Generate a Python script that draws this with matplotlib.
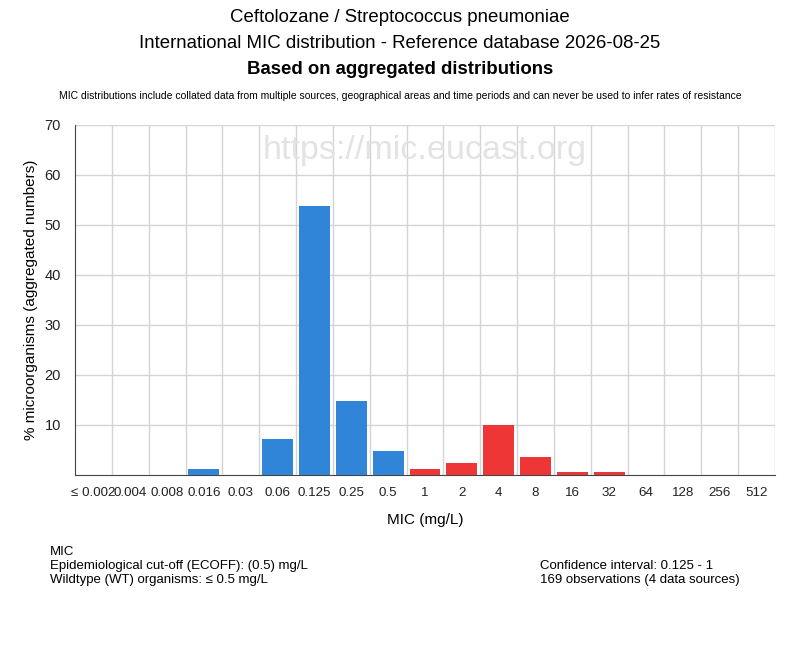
import matplotlib
matplotlib.use("Agg")
import matplotlib.pyplot as plt
import numpy as np

plt.rcParams['font.family'] = ['Liberation Sans', 'DejaVu Sans']

categories = ["≤ 0.002", "0.004", "0.008", "0.016", "0.03", "0.06", "0.125", "0.25", "0.5",
              "1", "2", "4", "8", "16", "32", "64", "128", "256", "512"]
counts = [0, 0, 0, 2, 0, 12, 91, 25, 8, 2, 4, 17, 6, 1, 1, 0, 0, 0, 0]
total_obs = 169
wt_cutoff_index = 8  # 0.5 mg/L
percent = [c / total_obs * 100 for c in counts]
yticks = [10, 20, 30, 40, 50, 60, 70]

blue = "#3185D9"
red = "#EE3636"
colors = [blue if i <= wt_cutoff_index else red for i in range(len(categories))]

fig = plt.figure(figsize=(8, 6.5), dpi=100)
ax = fig.add_axes([75/800, 1 - 475/650, 700/800, 350/650])

x = np.arange(len(categories))
ax.bar(x, percent, width=0.84, color=colors, zorder=3)

ax.set_xlim(-0.5, len(categories) - 0.5)
ax.set_ylim(0, 70)
ax.set_yticks(yticks)
ax.set_xticks(x)
ax.set_xticklabels(categories, fontsize=9.6)
ax.tick_params(axis='both', length=0, colors="#222222")
ax.tick_params(axis='y', labelsize=10.5, pad=10)
ax.tick_params(axis='x', pad=9)

# gridlines
for b in np.arange(-0.5, len(categories) + 0.5, 1.0)[1:]:
    ax.axvline(b, color="#d4d4d4", lw=1, zorder=1)
ax.yaxis.grid(True, color="#d4d4d4", lw=1, zorder=1)
for s in ["top", "right"]:
    ax.spines[s].set_visible(False)
ax.spines["left"].set_color("#444444")
ax.spines["bottom"].set_color("#444444")

ax.set_xlabel("MIC (mg/L)", fontsize=11, labelpad=10)
ax.set_ylabel("% microorganisms (aggregated numbers)", fontsize=11, labelpad=5)

ax.text(0.5, 0.927, "https://mic.eucast.org", transform=ax.transAxes, ha="center",
        va="center", fontsize=24.5, color="#e3e3e3", zorder=2)

fig.text(0.5, 1 - 18/650, "Ceftolozane / Streptococcus pneumoniae", ha="center", va="center", fontsize=13.4)
fig.text(0.5, 1 - 44/650, "International MIC distribution - Reference database 2026-08-25", ha="center", va="center", fontsize=13.4)
fig.text(0.5, 1 - 69/650, "Based on aggregated distributions", ha="center", va="center", fontsize=13.4, fontweight="bold")
fig.text(0.5, 1 - 96/650, "MIC distributions include collated data from multiple sources, geographical areas and time periods and can never be used to infer rates of resistance",
         ha="center", va="center", fontsize=7.5)

fig.text(50/800, 1 - 552/650, "MIC", ha="left", va="center", fontsize=9.5)
fig.text(50/800, 1 - 566/650, "Epidemiological cut-off (ECOFF): (0.5) mg/L", ha="left", va="center", fontsize=9.5)
fig.text(50/800, 1 - 580/650, "Wildtype (WT) organisms: ≤ 0.5 mg/L", ha="left", va="center", fontsize=9.5)
fig.text(540/800, 1 - 566/650, "Confidence interval: 0.125 - 1", ha="left", va="center", fontsize=9.5)
fig.text(540/800, 1 - 580/650, f"{total_obs} observations (4 data sources)", ha="left", va="center", fontsize=9.5)

fig.savefig("out.png", dpi=100)
